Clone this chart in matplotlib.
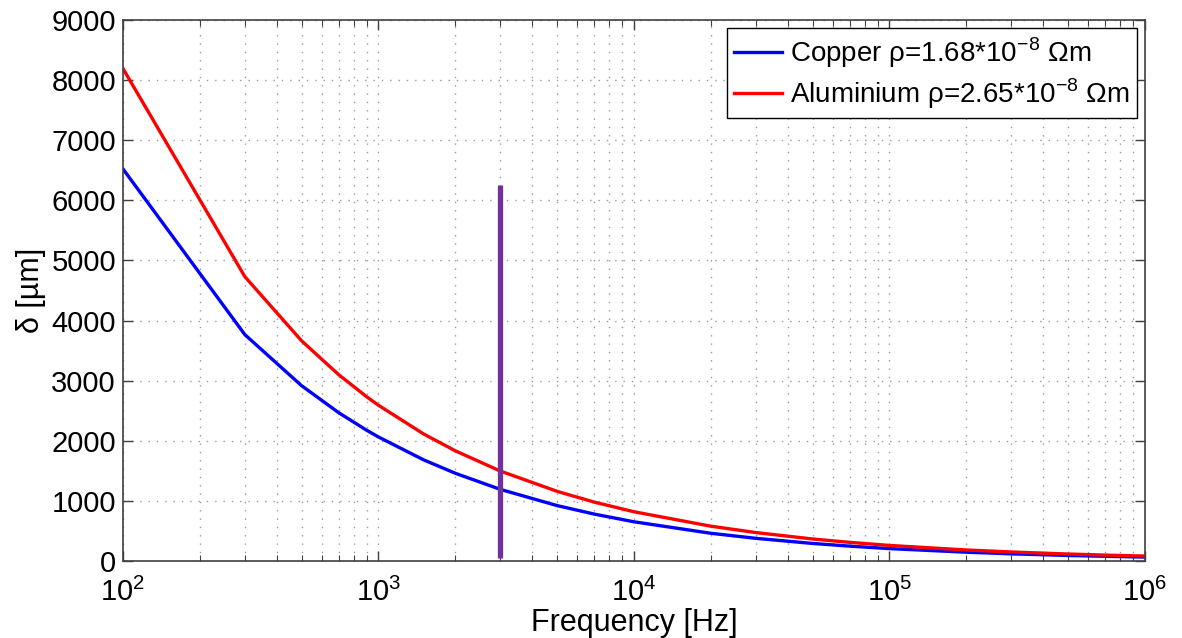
import matplotlib
matplotlib.use('Agg')
import matplotlib.pyplot as plt
from matplotlib.ticker import LogLocator, NullFormatter, FixedLocator

# ── Data ──────────────────────────────────────────────────────────────────────
freq = [100, 300, 500, 700, 900, 1000, 1500, 2000, 3000, 5000, 7000,
        10000, 20000, 30000, 50000, 70000, 100000, 200000, 300000,
        500000, 700000, 1000000]
copper = [6523, 3766, 2917, 2465, 2174, 2063, 1684, 1459, 1191, 922, 780,
          652, 461, 377, 292, 247, 206, 146, 119, 92, 78, 65]
aluminium = [8193, 4730, 3664, 3097, 2731, 2591, 2115, 1832, 1496, 1159, 979,
             819, 579, 473, 366, 310, 259, 183, 150, 116, 98, 82]
marker_f = 3000
marker_y = [50, 6250]

plt.rcParams['font.family'] = ['Liberation Sans', 'DejaVu Sans']
plt.rcParams['mathtext.fontset'] = 'custom'
plt.rcParams['mathtext.rm'] = 'Liberation Sans'

fig = plt.figure(figsize=(11.82, 6.38), dpi=100)
ax = fig.add_axes([0.104, 0.1207, 0.8647, 0.848])

ax.plot(freq, copper, color='#0000ff', lw=2.4,
        label=r'Copper ρ=1.68*10$^{\mathregular{-8}}$ Ωm')
ax.plot(freq, aluminium, color='#ff0000', lw=2.4,
        label=r'Aluminium ρ=2.65*10$^{\mathregular{-8}}$ Ωm')
ax.plot([marker_f, marker_f], marker_y, color='#7030a0', lw=3.8,
        solid_capstyle='butt')

ax.set_xscale('log')
ax.set_xlim(1e2, 1e6)
ax.set_ylim(0, 9000)
ax.yaxis.set_major_locator(FixedLocator(range(0, 9001, 1000)))
ax.xaxis.set_minor_locator(LogLocator(base=10, subs=range(2, 10)))
ax.xaxis.set_minor_formatter(NullFormatter())

ax.grid(True, which='major', linestyle=(0, (1, 5)), color='#999999', lw=1.0)
ax.grid(True, which='minor', axis='x', linestyle=(0, (1, 5)), color='#999999', lw=1.0)

for s in ax.spines.values():
    s.set_color('#404040')
    s.set_linewidth(1.2)
ax.tick_params(which='both', direction='in', top=True, right=True,
               colors='#404040', labelcolor='black', labelsize=21)
ax.tick_params(which='major', length=7, width=1.0)
ax.tick_params(which='minor', length=4, width=0.8)
ax.tick_params(axis='x', pad=12)
ax.tick_params(axis='y', pad=5)

ax.set_xlabel('Frequency [Hz]', fontsize=22, labelpad=1)
ax.set_ylabel('δ [µm]', fontsize=22, labelpad=4)

leg = ax.legend(loc='upper right', fontsize=20, fancybox=False, framealpha=1,
                edgecolor='black', handlelength=1.7, borderpad=0.25,
                labelspacing=0.25, handletextpad=0.3, borderaxespad=0.3)
leg.get_frame().set_linewidth(1.0)

fig.savefig('out.png', dpi=100, facecolor='white')
